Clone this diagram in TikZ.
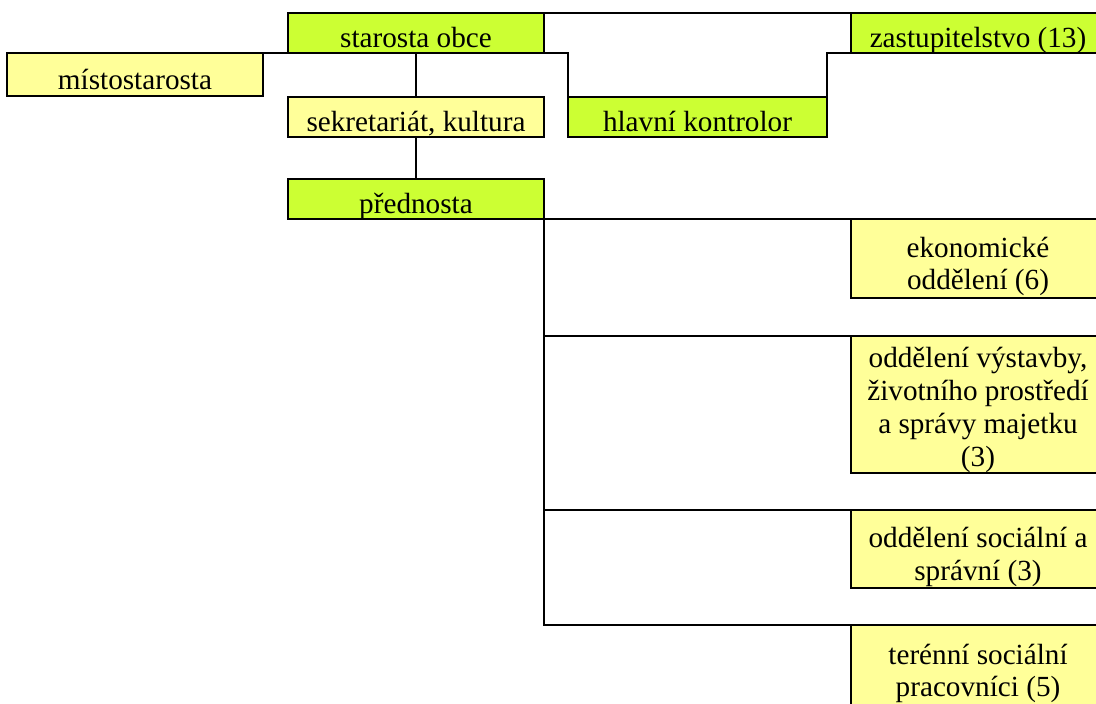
\documentclass[tikz,border=0pt]{standalone}
\usepackage{fontspec}
\setmainfont{Liberation Serif}
\definecolor{boxgreen}{RGB}{204, 255, 51}
\definecolor{boxyellow}{RGB}{255, 255, 153}
\usetikzlibrary{positioning, calc}

\begin{document}
\begin{tikzpicture}[x=0.5pt, y=-0.5pt,
    orgbox/.style={draw=black, line width=1pt, anchor=north west, align=center, inner sep=0pt,
      outer sep=0pt, text height=15pt, text depth=0pt,
      font=\fontsize{14.6}{16.4}\selectfont},
    greenbox/.style={orgbox, fill=boxgreen},
    yellowbox/.style={orgbox, fill=boxyellow},
    twoline/.style={text height=31.4pt},
    link/.style={draw=black, line width=1pt},
    trunk/.style={draw=black, line width=1.4pt}]
  \useasboundingbox (0,0) rectangle (1096,704);
  \clip (0,0) rectangle (1096,704);

  % vedeni obce
  \node[greenbox, minimum width=128pt, minimum height=20pt] (starosta) at (288,13) {starosta obce};
  \node[yellowbox, minimum width=128pt, minimum height=21.5pt] (misto) at (7,53) {místostarosta};
  \node[yellowbox, minimum width=128pt, minimum height=20pt] (sekretariat) at (288,97) {sekretariát, kultura};
  \node[greenbox, minimum width=129.5pt, minimum height=20pt] (kontrolor) at (568,97) {hlavní kontrolor};
  \node[greenbox, minimum width=127pt, minimum height=20pt] (zastup) at (851,13) {zastupitelstvo (13)};
  \node[greenbox, minimum width=128pt, minimum height=20pt] (prednosta) at (288,179) {přednosta};

  % oddeleni
  \node[yellowbox, twoline, minimum width=127pt, minimum height=39.5pt] (ekonom) at (851,219) {ekonomické\\oddělení (6)};
  \node[yellowbox, minimum width=127pt, minimum height=68.5pt, text height=61.7pt] (vystavby) at (851,336) {oddělení výstavby,\\životního prostředí\\a správy majetku\\(3)};
  \node[yellowbox, twoline, minimum width=127pt, minimum height=39pt] (socialni) at (851,510) {oddělení sociální a\\správní (3)};
  \node[yellowbox, twoline, minimum width=127pt, minimum height=40.5pt] (terenni) at (851,625) {terénní sociální\\pracovníci (5)};

  % spojnice
  \draw[link] (starosta.north east) -- (zastup.north west);
  \draw[link] (starosta.south west) -- (misto.north east);
  \draw[link] (starosta.south) -- (sekretariat.north);
  \draw[link] (sekretariat.south) -- (prednosta.north);
  \draw[link] (starosta.south east) -| (kontrolor.north west);
  \draw[link] (kontrolor.north east) |- (zastup.south west);
  \draw[link] (prednosta.south east) -- (ekonom.north west);
  \foreach \odd in {vystavby, socialni, terenni}
    \draw[link] (prednosta.south east) |- (\odd.north west);
  \draw[trunk] (prednosta.south east) -- (prednosta.south east |- terenni.north west);
\end{tikzpicture}
\end{document}
